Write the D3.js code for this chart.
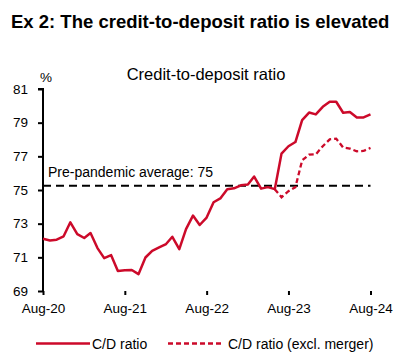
<!DOCTYPE html>
<html><head><meta charset="utf-8">
<script src="https://cdn.jsdelivr.net/npm/d3@7"></script>
<style>body{margin:0;background:#fff;}text{font-family:"Liberation Sans",Arial,sans-serif;}</style>
</head><body><svg id="c" width="404" height="360"></svg>
<script>
// Monthly observations, Aug-2020 .. Aug-2024
const startMonth = "2020-08";
const cdRatio = [72.1,72.0,72.05,72.25,73.08,72.38,72.15,72.44,71.55,70.95,71.13,70.19,
  70.23,70.25,70.0,70.99,71.39,71.59,71.79,72.22,71.49,72.68,73.48,72.92,
  73.36,74.27,74.5,75.05,75.1,75.28,75.33,75.8,75.08,75.17,75.05,77.16,
  77.6,77.85,79.15,79.6,79.49,79.94,80.24,80.24,79.59,79.63,79.31,79.31,79.49];
const cdExMerger = [null,null,null,null,null,null,null,null,null,null,null,null,
  null,null,null,null,null,null,null,null,null,null,null,null,
  null,null,null,null,null,null,null,null,null,null,75.05,74.57,
  74.93,75.17,76.76,77.1,77.12,77.6,78.01,78.05,77.52,77.46,77.3,77.32,77.5];
const prePandemicAvg = 75.25;
const yTicks = [69,71,73,75,77,79,81];
const xTickLabels = ["Aug-20","Aug-21","Aug-22","Aug-23","Aug-24"];
const seriesNames = ["C/D ratio","C/D ratio (excl. merger)"];

const red = "#cc0a2a";
const svg = d3.select("#c");
const parse = d3.timeParse("%Y-%m");
const t0 = parse(startMonth);
const dates = cdRatio.map((_, i) => d3.timeMonth.offset(t0, i));
const xTickDates = xTickLabels.map((_, i) => d3.timeYear.offset(t0, i));

const x = d3.scaleTime().domain([t0, dates[dates.length - 1]]).range([43, 370.5]);
const y = d3.scaleLinear().domain([69, 81]).range([291, 89]);

// title
svg.append("text").attr("x", 11).attr("y", 28).attr("font-size", 18.5).attr("font-weight", "bold")
  .attr("fill", "#000").text("Ex 2: The credit-to-deposit ratio is elevated");
svg.append("text").attr("x", 206).attr("y", 79.5).attr("text-anchor", "middle").attr("font-size", 16.5)
  .attr("fill", "#000").text("Credit-to-deposit ratio");
svg.append("text").attr("x", 40).attr("y", 82).attr("font-size", 13.5).text("%");

// axes
const yAxis = d3.axisLeft(y).tickValues(yTicks).tickSize(5).tickPadding(10).tickFormat(d3.format("d"));
const gy = svg.append("g").attr("transform", "translate(43,0)").call(yAxis);
const xAxis = d3.axisBottom(x).tickValues(xTickDates).tickSize(4).tickPadding(8)
  .tickFormat((d, i) => xTickLabels[i]);
const gx = svg.append("g").attr("transform", "translate(0,291)").call(xAxis);
[gx, gy].forEach(g => {
  g.select(".domain").attr("stroke", "#000").attr("stroke-width", 2);
  g.selectAll(".tick line").attr("stroke", "#000").attr("stroke-width", 2);
  g.selectAll("text").attr("font-size", 13.5).attr("fill", "#000")
    .attr("font-family", "'Liberation Sans',Arial,sans-serif");
});
gy.select(".domain").attr("d", "M-5,89H0V291");
gx.select(".domain").attr("d", "M43,291H370.5V295");

// reference line
svg.append("line").attr("x1", x(t0)).attr("x2", x(dates[dates.length - 1]))
  .attr("y1", y(prePandemicAvg)).attr("y2", y(prePandemicAvg))
  .attr("stroke", "#000").attr("stroke-width", 2).attr("stroke-dasharray", "8,5");
svg.append("text").attr("x", 48).attr("y", 177).attr("font-size", 14).text("Pre-pandemic average: 75");

const line = d3.line().defined(d => d[1] != null).x(d => x(d[0])).y(d => y(d[1]));
svg.append("path").datum(dates.map((d, i) => [d, cdExMerger[i]])).attr("d", line)
  .attr("fill", "none").attr("stroke", red).attr("stroke-width", 2.3).attr("stroke-dasharray", "5,3");
svg.append("path").datum(dates.map((d, i) => [d, cdRatio[i]])).attr("d", line)
  .attr("fill", "none").attr("stroke", red).attr("stroke-width", 2.5).attr("stroke-linejoin", "round");

// legend
const lg = svg.append("g");
lg.append("line").attr("x1", 36).attr("x2", 90).attr("y1", 343.5).attr("y2", 343.5)
  .attr("stroke", red).attr("stroke-width", 2.5);
lg.append("text").attr("x", 92).attr("y", 348.5).attr("font-size", 14).text(seriesNames[0]);
lg.append("line").attr("x1", 168).attr("x2", 222).attr("y1", 343.5).attr("y2", 343.5)
  .attr("stroke", red).attr("stroke-width", 2.3).attr("stroke-dasharray", "5,3");
lg.append("text").attr("x", 228).attr("y", 348.5).attr("font-size", 14).text(seriesNames[1]);
</script></body></html>
